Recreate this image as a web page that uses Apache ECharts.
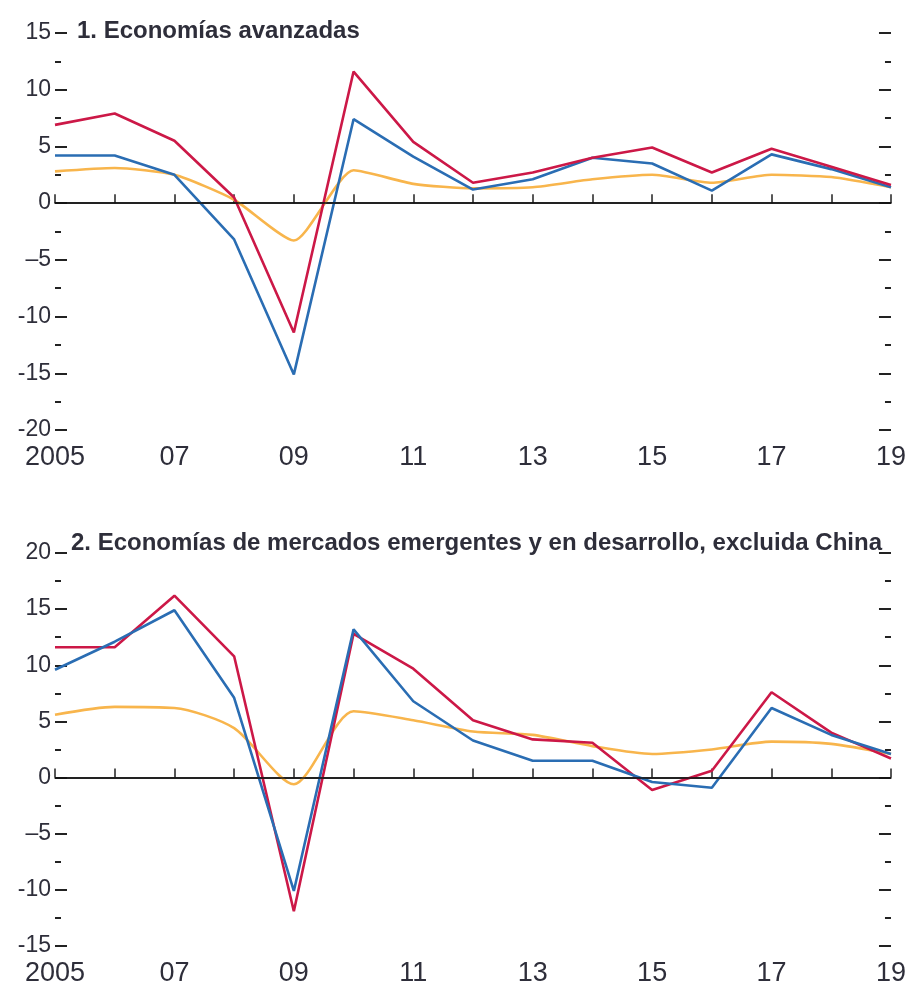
<!DOCTYPE html>
<html>
<head>
<meta charset="utf-8">
<script src="https://cdn.jsdelivr.net/npm/echarts@6/dist/echarts.min.js"></script>
<style>
html,body{margin:0;padding:0;background:#fff;}
#c{width:909px;height:987px;}
</style>
</head>
<body>
<div id="c"></div>
<script>
const years = ['2005','06','07','08','09','10','11','12','13','14','15','16','17','18','19'];

const title1 = '1. Economías avanzadas';
const title2 = '2. Economías de mercados emergentes y en desarrollo, excluida China';

// Panel 1: Economías avanzadas
const adv_red    = [6.9, 7.9, 5.5, 0.5, -11.4, 11.6, 5.4, 1.8, 2.7, 4.0, 4.9, 2.7, 4.8, 3.2, 1.6];
const adv_blue   = [4.2, 4.2, 2.5, -3.2, -15.1, 7.4, 4.1, 1.2, 2.1, 4.0, 3.5, 1.1, 4.3, 3.0, 1.4];
const adv_orange = [2.8, 3.1, 2.5, 0.3, -3.3, 2.9, 1.7, 1.3, 1.4, 2.1, 2.5, 1.8, 2.5, 2.3, 1.4];

// Panel 2: EMED excl. China
const em_red    = [11.6, 11.6, 16.2, 10.8, -11.9, 12.8, 9.7, 5.1, 3.4, 3.1, -1.1, 0.6, 7.6, 4.0, 1.7];
const em_blue   = [9.6, 12.1, 14.9, 7.1, -10.1, 13.2, 6.8, 3.3, 1.5, 1.5, -0.4, -0.9, 6.2, 3.8, 2.1];
const em_orange = [5.6, 6.3, 6.2, 4.4, -0.6, 5.9, 5.1, 4.1, 3.8, 2.8, 2.1, 2.5, 3.2, 3.0, 2.1];

const yTicks1 = {min: -20, max: 15, interval: 5};
const yTicks2 = {min: -15, max: 20, interval: 5};
const yLabelText = {'-5': '–5'};

const FONT = '"Liberation Sans Narrow", "Liberation Sans", Arial, sans-serif';
const RED = '#cc1847', BLUE = '#2a6db3', ORANGE = '#f8b54c', TXT = '#2e2e3a';

const chart = echarts.init(document.getElementById('c'), null, {renderer: 'canvas'});

function xAxis(gi) {
  return {
    type: 'category', gridIndex: gi, data: years, boundaryGap: false,
    axisLine: {show: true, lineStyle: {color: '#222', width: 1.5}},
    axisTick: {show: true, inside: true, length: 9, interval: 0, lineStyle: {color: '#222', width: 1.5}},
    axisLabel: {interval: 1, color: TXT, fontFamily: FONT, fontSize: 27, margin: 14},
    splitLine: {show: false}
  };
}
function yAxis(gi, t, pos, labels) {
  return {
    type: 'value', gridIndex: gi, position: pos, min: t.min, max: t.max, interval: t.interval,
    axisLine: {show: false},
    axisTick: {show: true, inside: true, length: 12, lineStyle: {color: '#222', width: 2}},
    minorTick: {show: true, splitNumber: 2, length: 6, lineStyle: {color: '#222', width: 2}},
    axisLabel: {show: labels, color: TXT, fontFamily: FONT, fontSize: 23, margin: 4,
      formatter: v => (yLabelText[String(v)] || String(v))},
    splitLine: {show: false}, minorSplitLine: {show: false}
  };
}
function line(data, color, xi, yi, smooth, z) {
  return {
    type: 'line', data: data, xAxisIndex: xi, yAxisIndex: yi, symbol: 'none',
    smooth: smooth, z: z, lineStyle: {color: color, width: 2.6}, animation: false
  };
}
function zero(xi, yi) {
  return {
    type: 'line', data: [], xAxisIndex: xi, yAxisIndex: yi, symbol: 'none', animation: false,
    markLine: {silent: true, symbol: 'none', label: {show: false},
      lineStyle: {color: '#111', width: 1.5, type: 'solid'}, data: [{yAxis: 0}], animation: false}
  };
}

chart.setOption({
  backgroundColor: '#fff',
  animation: false,
  title: [
    {text: title1, left: 72, top: 14, textStyle: {fontFamily: FONT, fontWeight: 'bold', fontSize: 24, color: TXT}},
    {text: title2, left: 66, top: 526, textStyle: {fontFamily: FONT, fontWeight: 'bold', fontSize: 24, color: TXT}}
  ],
  grid: [
    {left: 55, right: 17, top: 33, height: 397},
    {left: 55, right: 17, top: 553, height: 397}
  ],
  xAxis: [xAxis(0), xAxis(1)],
  yAxis: [yAxis(0, yTicks1, 'left', true), yAxis(0, yTicks1, 'right', false),
          yAxis(1, yTicks2, 'left', true), yAxis(1, yTicks2, 'right', false)],
  series: [
    zero(0, 0),
    line(adv_orange, ORANGE, 0, 0, 0.2, 2),
    line(adv_blue, BLUE, 0, 0, false, 3),
    line(adv_red, RED, 0, 0, false, 4),
    zero(1, 2),
    line(em_orange, ORANGE, 1, 2, 0.25, 2),
    line(em_red, RED, 1, 2, false, 3),
    line(em_blue, BLUE, 1, 2, false, 4)
  ]
});
</script>
</body>
</html>
